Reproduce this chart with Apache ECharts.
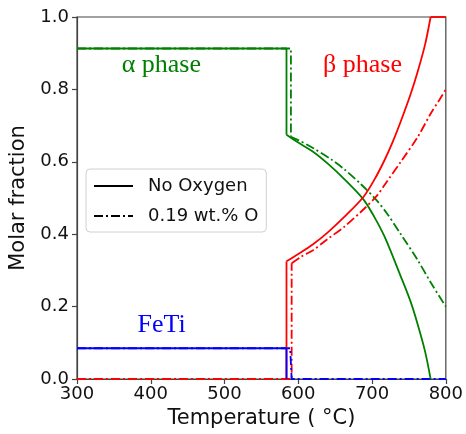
<!DOCTYPE html>
<html>
<head>
<meta charset="utf-8">
<script src="https://cdn.jsdelivr.net/npm/echarts@6/dist/echarts.min.js"></script>
<style>html,body{margin:0;padding:0;background:#fff}#c{width:466px;height:434px}</style>
</head>
<body>
<div id="c"></div>
<script>
// ---- data ----
var xTicks = [300, 400, 500, 600, 700, 800];
var yTicks = [0.0, 0.2, 0.4, 0.6, 0.8, 1.0];

// No oxygen (solid)
var alphaSolidT = [300, 584, 584, 600, 620, 640, 662, 688, 703, 717, 739, 752, 762, 772, 779.4];
var alphaSolidV = [0.913, 0.913, 0.675, 0.653, 0.628, 0.595, 0.553, 0.497, 0.448, 0.393, 0.283, 0.215, 0.150, 0.075, 0.0];
var betaSolidT  = [584, 584, 600, 620, 640, 662, 688, 703, 717, 728, 739, 752, 762, 772, 779.4, 800];
var betaSolidV  = [0.0, 0.325, 0.345, 0.372, 0.405, 0.447, 0.502, 0.550, 0.605, 0.655, 0.712, 0.785, 0.850, 0.925, 1.0, 1.0];
var fetiSolidT  = [300, 584, 584];
var fetiSolidV  = [0.085, 0.085, 0.0];

// 0.19 wt.% O (dash-dot)
var alphaDashT = [300, 590, 590, 600, 620, 645, 662, 685, 706, 720, 739, 762, 780, 800];
var alphaDashV = [0.913, 0.913, 0.669, 0.660, 0.638, 0.606, 0.580, 0.538, 0.494, 0.458, 0.400, 0.328, 0.265, 0.200];
var betaDashT  = [300, 591, 591, 604, 620, 640, 662, 685, 706, 720, 739, 762, 780, 791, 800];
var betaDashV  = [0.0, 0.0, 0.320, 0.338, 0.356, 0.387, 0.420, 0.462, 0.505, 0.545, 0.600, 0.669, 0.735, 0.770, 0.800];
var fetiDashT  = [300, 589, 591, 800];
var fetiDashV  = [0.085, 0.085, 0.0, 0.0];

var legendNames = ['No Oxygen', '0.19 wt.% O'];
var annotations = [
  {text: 'α phase', t: 360.5, v: 0.868, color: '#008000'},
  {text: 'β phase', t: 633.6, v: 0.866, color: '#ff0000'},
  {text: 'FeTi',    t: 382,   v: 0.150, color: '#0000ff'}
];

function pairs(ts, vs) { return ts.map(function (t, i) { return [t, vs[i]]; }); }

var DASH = [9, 3, 2, 3];
var LW = 1.8;
// one line series drawing points [from..to] of a curve
function piece(name, ts, vs, from, to, color, dashed, smooth) {
  return {
    type: 'line', name: name, data: pairs(ts, vs).slice(from, to + 1), symbol: 'none', showSymbol: false,
    animation: false, silent: true, clip: true,
    smooth: smooth ? 0.3 : false,
    lineStyle: {color: color, width: LW, type: dashed ? DASH : 'solid'},
    itemStyle: {color: color}
  };
}
var G = '#008000', R = '#ff0000', B = '#0000ff';

var chart = echarts.init(document.getElementById('c'), null, {renderer: 'canvas'});
var font = 'DejaVu Sans';
var option = {
  backgroundColor: '#fff',
  animation: false,
  grid: {left: 77, right: 17, top: 17, bottom: 55, show: true, borderColor: '#444', borderWidth: 1.2, backgroundColor: 'transparent'},
  xAxis: {
    type: 'value', min: 300, max: 800, interval: 100,
    name: 'Temperature ( °C)', nameLocation: 'middle', nameGap: 20,
    nameTextStyle: {fontFamily: font, fontSize: 21, color: '#111'},
    axisLine: {show: true, lineStyle: {color: '#444', width: 1.2}},
    axisTick: {show: true, length: 5, lineStyle: {color: '#444', width: 1.2}},
    axisLabel: {fontFamily: font, fontSize: 18, color: '#111', margin: 6,
      formatter: function (v) { return xTicks.indexOf(v) >= 0 ? String(v) : ''; }},
    splitLine: {show: false}
  },
  yAxis: {
    type: 'value', min: 0, max: 1, interval: 0.2,
    name: 'Molar fraction', nameLocation: 'middle', nameGap: 45,
    nameTextStyle: {fontFamily: font, fontSize: 21, color: '#111'},
    axisLine: {show: true, lineStyle: {color: '#444', width: 1.2}},
    axisTick: {show: true, length: 5, lineStyle: {color: '#444', width: 1.2}},
    axisLabel: {fontFamily: font, fontSize: 18, color: '#111', margin: 8,
      formatter: function (v) { return v.toFixed(1); }},
    splitLine: {show: false}
  },
  legend: {
    data: legendNames, orient: 'vertical', left: 86, top: 169,
    itemWidth: 39, itemHeight: 14, itemGap: 12,
    padding: [8, 8, 7, 7],
    borderColor: '#d0d0d0', borderWidth: 1, borderRadius: 4, backgroundColor: 'rgba(255,255,255,0.85)',
    selectedMode: false,
    itemStyle: {opacity: 0, color: 'transparent', borderWidth: 0},
    textStyle: {fontFamily: font, fontSize: 18, color: '#111', padding: [0, 0, 0, 10]}
  },
  series: [
    piece('No Oxygen', [], [], 0, 0, '#000', false, false),
    piece('0.19 wt.% O', [], [], 0, 0, '#000', true, false),
    // dash-dot (0.19 wt.% O)
    piece('alphaDashStep', alphaDashT, alphaDashV, 0, 2, G, true, false),
    piece('alphaDashCurve', alphaDashT, alphaDashV, 2, alphaDashT.length - 1, G, true, true),
    piece('betaDashStep', betaDashT, betaDashV, 0, 2, R, true, false),
    piece('betaDashCurve', betaDashT, betaDashV, 2, betaDashT.length - 1, R, true, true),
    piece('fetiDash', fetiDashT, fetiDashV, 0, fetiDashT.length - 1, B, true, false),
    // solid (no oxygen)
    piece('alphaSolidStep', alphaSolidT, alphaSolidV, 0, 2, G, false, false),
    piece('alphaSolidCurve', alphaSolidT, alphaSolidV, 2, alphaSolidT.length - 1, G, false, true),
    piece('betaSolidStep', betaSolidT, betaSolidV, 0, 1, R, false, false),
    piece('betaSolidCurve', betaSolidT, betaSolidV, 1, betaSolidT.length - 2, R, false, true),
    piece('betaSolidTop', betaSolidT, betaSolidV, betaSolidT.length - 2, betaSolidT.length - 1, R, false, false),
    piece('fetiSolid', fetiSolidT, fetiSolidV, 0, fetiSolidT.length - 1, B, false, false)
  ]
};
chart.setOption(option);

var graphics = annotations.map(function (a) {
  var p = chart.convertToPixel({gridIndex: 0}, [a.t, a.v]);
  return {
    type: 'text', x: p[0], y: p[1], silent: true,
    style: {text: a.text, fill: a.color, font: '26px "Liberation Serif"', align: 'left', verticalAlign: 'middle'}
  };
});
chart.setOption({graphic: graphics});
</script>
</body>
</html>
